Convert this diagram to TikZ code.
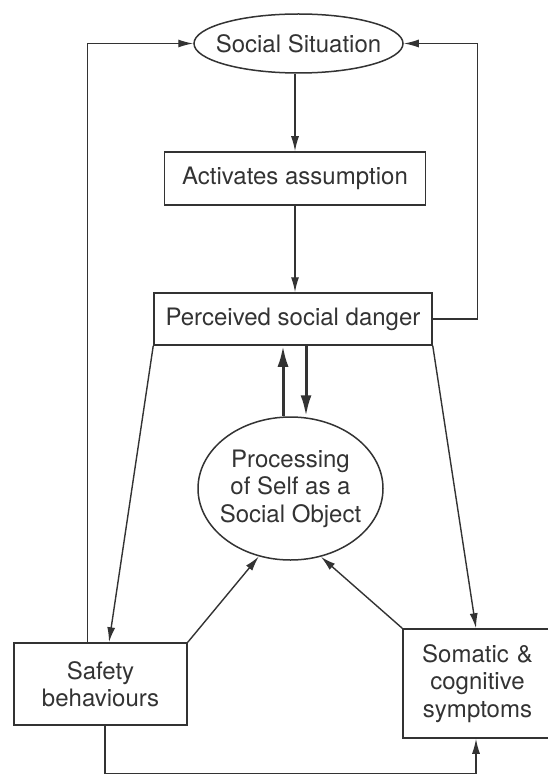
\documentclass[tikz,border=0pt]{standalone}
\usepackage{fontspec}
\setmainfont{TeX Gyre Heros}
\usetikzlibrary{arrows.meta,shapes.geometric}
\definecolor{ink}{HTML}{333333}
\begin{document}
\begin{tikzpicture}[x=1pt,y=-1pt,
  txt/.style={font=\fontsize{24}{27.5}\selectfont, text=ink, align=center},
  boxnode/.style={txt, draw=ink, line width=1.5pt, rectangle, inner sep=0pt},
  ovalnode/.style={txt, draw=ink, line width=1.5pt, ellipse, inner ysep=-4pt},
  link/.style={draw=ink, line width=1.4pt},
  arr/.style={link, -{Latex[length=15pt,width=8pt]}},
  thickarr/.style={draw=ink, line width=3pt, -{Latex[length=21pt,width=11pt]}}]
\useasboundingbox (0,0) rectangle (547,775);
\fill[white] (0,0) rectangle (547,775);

\node[ovalnode, inner xsep=-20pt, minimum width=209pt, minimum height=59pt] (ss) at (298.5,43.5) {Social Situation};
\node[boxnode, minimum width=261pt, minimum height=53pt] (aa) at (295,178.5) {Activates assumption};
\node[boxnode, minimum width=278pt, minimum height=52pt] (pd) at (293,319) {Perceived social danger};
\node[ovalnode, inner xsep=-12pt, minimum width=185pt, minimum height=143pt] (proc) at (290.5,488.5) {Processing\\of Self as a\\Social Object};
\node[boxnode, minimum width=173pt, minimum height=82pt] (safety) at (100.5,684) {Safety\\behaviours};
\node[boxnode, minimum width=149pt, minimum height=109pt, text width=149pt] (som) at (477.5,683.5) {Somatic \&\\cognitive\\symptoms};

% main chain
\draw[arr] (ss.south -| aa.north) -- (aa.north);
\draw[arr] (aa.south) -- (aa.south |- pd.north);

% feedback loops to the social situation
\draw[arr] (pd.east) -- ++(45,0) |- (ss.east);
\draw[arr] ([xshift=-13pt]safety.north) |- (ss.west);

% danger to safety behaviours and symptoms
\draw[arr] (pd.south west) -- ([xshift=8.5pt]safety.north);
\draw[arr] (pd.south east) -- ([xshift=-1.5pt]som.north);

% thick two-way link with processing of self
\draw[thickarr] ([xshift=-10pt]pd.south |- proc.north) -- ([xshift=-10pt]pd.south);
\draw[thickarr] ([xshift=13pt]pd.south) -- ([xshift=13pt]pd.south |- proc.north);

% into processing of self
\draw[arr] (safety.north east) -- (proc.245.7);
\draw[arr] (som.north west) -- (proc.294.3);

% safety behaviours to symptoms
\draw[arr] ([xshift=4.5pt]safety.south) -- ++(0,48) -| ([xshift=-1.5pt]som.south);
\end{tikzpicture}
\end{document}
